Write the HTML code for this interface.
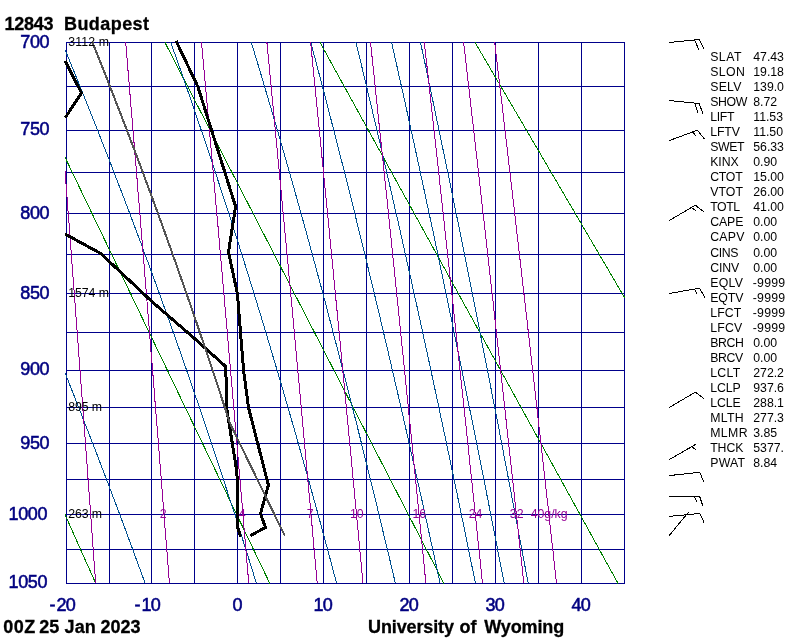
<!DOCTYPE html>
<html><head><meta charset="utf-8"><title>12843 Budapest Sounding</title>
<style>html,body{margin:0;padding:0;background:#fff}svg{display:block;will-change:transform}</style></head>
<body><svg width="800" height="640" viewBox="0 0 800 640">
<rect width="800" height="640" fill="#fff"/>
<defs><clipPath id="c"><rect x="65" y="42" width="560" height="542"/></clipPath></defs>
<g fill="#00008b" shape-rendering="crispEdges"><rect x="66" y="42" width="1" height="542"/><rect x="109" y="42" width="1" height="542"/><rect x="151" y="42" width="1" height="542"/><rect x="194" y="42" width="1" height="542"/><rect x="237" y="42" width="1" height="542"/><rect x="280" y="42" width="1" height="542"/><rect x="323" y="42" width="1" height="542"/><rect x="366" y="42" width="1" height="542"/><rect x="409" y="42" width="1" height="542"/><rect x="452" y="42" width="1" height="542"/><rect x="495" y="42" width="1" height="542"/><rect x="538" y="42" width="1" height="542"/><rect x="581" y="42" width="1" height="542"/><rect x="624" y="42" width="1" height="542"/><rect x="66" y="42" width="559" height="1"/><rect x="66" y="86" width="559" height="1"/><rect x="66" y="130" width="559" height="1"/><rect x="66" y="172" width="559" height="1"/><rect x="66" y="213" width="559" height="1"/><rect x="66" y="254" width="559" height="1"/><rect x="66" y="293" width="559" height="1"/><rect x="66" y="332" width="559" height="1"/><rect x="66" y="370" width="559" height="1"/><rect x="66" y="407" width="559" height="1"/><rect x="66" y="443" width="559" height="1"/><rect x="66" y="479" width="559" height="1"/><rect x="66" y="514" width="559" height="1"/><rect x="66" y="549" width="559" height="1"/><rect x="66" y="583" width="559" height="1"/></g>
<g clip-path="url(#c)" fill="none" stroke-width="1" shape-rendering="crispEdges"><g stroke="#008000">
<polyline points="-145.2,42.4 95.7,583.4" />
<polyline points="9.8,42.4 269.8,583.4" />
<polyline points="164.9,42.4 443.9,583.4" />
<polyline points="320.0,42.4 618.0,583.4" />
<polyline points="475.0,42.4 792.1,583.4" />
</g><g stroke="#005090">
<polyline points="-73.6,42.4 -69.6,51.3 -65.7,60.2 -61.9,69.1 -58.0,77.9 -54.2,86.7 -50.4,95.5 -46.7,104.2 -42.9,112.8 -39.2,121.5 -35.5,130.0 -31.9,138.6 -28.2,147.1 -24.6,155.5 -21.0,163.9 -17.5,172.3 -14.0,180.7 -10.4,189.0 -7.0,197.2 -3.5,205.5 -0.0,213.6 3.4,221.8 6.8,229.9 10.1,238.0 13.5,246.0 16.8,254.1 20.1,262.0 23.4,270.0 26.6,277.9 29.9,285.8 33.1,293.6 36.3,301.4 39.4,309.2 42.6,316.9 45.7,324.6 48.8,332.3 51.9,340.0 54.9,347.6 58.0,355.2 61.0,362.7 64.0,370.3 67.0,377.8 69.9,385.2 72.9,392.7 75.8,400.1 78.7,407.4 81.6,414.8 84.4,422.1 87.3,429.4 90.1,436.7 92.9,443.9 95.7,451.1 98.4,458.3 101.2,465.5 103.9,472.6 106.6,479.7 109.3,486.8 112.0,493.9 114.6,500.9 117.3,507.9 119.9,514.9 122.5,521.8 125.1,528.8 127.6,535.7 130.2,542.6 132.7,549.4 135.2,556.2 137.7,563.1 140.2,569.8 142.7,576.6 145.2,583.4" />
<polyline points="62.0,42.4 65.7,51.3 69.4,60.2 73.0,69.1 76.6,77.9 80.1,86.7 83.7,95.5 87.2,104.2 90.6,112.8 94.1,121.5 97.5,130.0 100.8,138.6 104.2,147.1 107.5,155.5 110.8,163.9 114.0,172.3 117.2,180.7 120.4,189.0 123.6,197.2 126.7,205.5 129.8,213.6 132.9,221.8 135.9,229.9 139.0,238.0 142.0,246.0 144.9,254.1 147.9,262.0 150.8,270.0 153.7,277.9 156.6,285.8 159.4,293.6 162.2,301.4 165.0,309.2 167.8,316.9 170.6,324.6 173.3,332.3 176.0,340.0 178.7,347.6 181.4,355.2 184.0,362.7 186.6,370.3 189.2,377.8 191.8,385.2 194.3,392.7 196.9,400.1 199.4,407.4 201.9,414.8 204.4,422.1 206.8,429.4 209.3,436.7 211.7,443.9 214.1,451.1 216.5,458.3 218.8,465.5 221.2,472.6 223.5,479.7 225.8,486.8 228.1,493.9 230.4,500.9 232.6,507.9 234.9,514.9 237.1,521.8 239.3,528.8 241.5,535.7 243.7,542.6 245.8,549.4 248.0,556.2 250.1,563.1 252.2,569.8 254.3,576.6 256.4,583.4" />
<polyline points="170.7,42.4 173.9,51.3 177.1,60.2 180.2,69.1 183.3,77.9 186.4,86.7 189.4,95.5 192.4,104.2 195.4,112.8 198.3,121.5 201.2,130.0 204.1,138.6 207.0,147.1 209.8,155.5 212.6,163.9 215.4,172.3 218.1,180.7 220.8,189.0 223.5,197.2 226.2,205.5 228.9,213.6 231.5,221.8 234.1,229.9 236.6,238.0 239.2,246.0 241.7,254.1 244.2,262.0 246.7,270.0 249.2,277.9 251.6,285.8 254.0,293.6 256.4,301.4 258.8,309.2 261.2,316.9 263.5,324.6 265.8,332.3 268.1,340.0 270.4,347.6 272.6,355.2 274.9,362.7 277.1,370.3 279.3,377.8 281.5,385.2 283.7,392.7 285.8,400.1 288.0,407.4 290.1,414.8 292.2,422.1 294.3,429.4 296.4,436.7 298.4,443.9 300.5,451.1 302.5,458.3 304.5,465.5 306.5,472.6 308.5,479.7 310.5,486.8 312.4,493.9 314.3,500.9 316.3,507.9 318.2,514.9 320.1,521.8 322.0,528.8 323.8,535.7 325.7,542.6 327.6,549.4 329.4,556.2 331.2,563.1 333.0,569.8 334.8,576.6 336.6,583.4" />
<polyline points="251.3,42.4 254.0,51.3 256.7,60.2 259.4,69.1 262.0,77.9 264.6,86.7 267.2,95.5 269.8,104.2 272.3,112.8 274.9,121.5 277.4,130.0 279.8,138.6 282.3,147.1 284.7,155.5 287.1,163.9 289.5,172.3 291.9,180.7 294.2,189.0 296.5,197.2 298.8,205.5 301.1,213.6 303.4,221.8 305.6,229.9 307.8,238.0 310.0,246.0 312.2,254.1 314.4,262.0 316.5,270.0 318.7,277.9 320.8,285.8 322.9,293.6 325.0,301.4 327.0,309.2 329.1,316.9 331.1,324.6 333.1,332.3 335.1,340.0 337.1,347.6 339.1,355.2 341.0,362.7 343.0,370.3 344.9,377.8 346.8,385.2 348.7,392.7 350.6,400.1 352.5,407.4 354.3,414.8 356.2,422.1 358.0,429.4 359.8,436.7 361.6,443.9 363.4,451.1 365.2,458.3 367.0,465.5 368.7,472.6 370.5,479.7 372.2,486.8 373.9,493.9 375.7,500.9 377.4,507.9 379.0,514.9 380.7,521.8 382.4,528.8 384.0,535.7 385.7,542.6 387.3,549.4 389.0,556.2 390.6,563.1 392.2,569.8 393.8,576.6 395.4,583.4" />
<polyline points="310.7,42.4 313.1,51.3 315.5,60.2 317.8,69.1 320.2,77.9 322.5,86.7 324.8,95.5 327.0,104.2 329.3,112.8 331.5,121.5 333.7,130.0 335.9,138.6 338.1,147.1 340.2,155.5 342.4,163.9 344.5,172.3 346.6,180.7 348.7,189.0 350.7,197.2 352.8,205.5 354.8,213.6 356.8,221.8 358.8,229.9 360.8,238.0 362.8,246.0 364.7,254.1 366.7,262.0 368.6,270.0 370.5,277.9 372.4,285.8 374.3,293.6 376.2,301.4 378.0,309.2 379.9,316.9 381.7,324.6 383.5,332.3 385.3,340.0 387.1,347.6 388.9,355.2 390.6,362.7 392.4,370.3 394.1,377.8 395.9,385.2 397.6,392.7 399.3,400.1 401.0,407.4 402.7,414.8 404.3,422.1 406.0,429.4 407.7,436.7 409.3,443.9 410.9,451.1 412.5,458.3 414.2,465.5 415.8,472.6 417.3,479.7 418.9,486.8 420.5,493.9 422.1,500.9 423.6,507.9 425.2,514.9 426.7,521.8 428.2,528.8 429.7,535.7 431.2,542.6 432.7,549.4 434.2,556.2 435.7,563.1 437.2,569.8 438.6,576.6 440.1,583.4" />
<polyline points="355.9,42.4 358.1,51.3 360.3,60.2 362.4,69.1 364.5,77.9 366.6,86.7 368.7,95.5 370.8,104.2 372.8,112.8 374.9,121.5 376.9,130.0 378.9,138.6 380.9,147.1 382.8,155.5 384.8,163.9 386.7,172.3 388.6,180.7 390.6,189.0 392.5,197.2 394.3,205.5 396.2,213.6 398.1,221.8 399.9,229.9 401.7,238.0 403.5,246.0 405.3,254.1 407.1,262.0 408.9,270.0 410.7,277.9 412.4,285.8 414.1,293.6 415.9,301.4 417.6,309.2 419.3,316.9 421.0,324.6 422.7,332.3 424.3,340.0 426.0,347.6 427.6,355.2 429.3,362.7 430.9,370.3 432.5,377.8 434.1,385.2 435.7,392.7 437.3,400.1 438.9,407.4 440.4,414.8 442.0,422.1 443.5,429.4 445.1,436.7 446.6,443.9 448.1,451.1 449.6,458.3 451.1,465.5 452.6,472.6 454.1,479.7 455.6,486.8 457.1,493.9 458.5,500.9 460.0,507.9 461.4,514.9 462.9,521.8 464.3,528.8 465.7,535.7 467.1,542.6 468.5,549.4 469.9,556.2 471.3,563.1 472.7,569.8 474.1,576.6 475.4,583.4" />
<polyline points="391.6,42.4 393.6,51.3 395.6,60.2 397.6,69.1 399.5,77.9 401.5,86.7 403.5,95.5 405.4,104.2 407.3,112.8 409.2,121.5 411.1,130.0 413.0,138.6 414.8,147.1 416.7,155.5 418.5,163.9 420.3,172.3 422.1,180.7 423.9,189.0 425.7,197.2 427.4,205.5 429.2,213.6 430.9,221.8 432.7,229.9 434.4,238.0 436.1,246.0 437.8,254.1 439.4,262.0 441.1,270.0 442.8,277.9 444.4,285.8 446.1,293.6 447.7,301.4 449.3,309.2 450.9,316.9 452.5,324.6 454.1,332.3 455.7,340.0 457.2,347.6 458.8,355.2 460.3,362.7 461.9,370.3 463.4,377.8 464.9,385.2 466.4,392.7 467.9,400.1 469.4,407.4 470.9,414.8 472.4,422.1 473.9,429.4 475.3,436.7 476.8,443.9 478.2,451.1 479.6,458.3 481.1,465.5 482.5,472.6 483.9,479.7 485.3,486.8 486.7,493.9 488.1,500.9 489.5,507.9 490.8,514.9 492.2,521.8 493.6,528.8 494.9,535.7 496.3,542.6 497.6,549.4 498.9,556.2 500.2,563.1 501.6,569.8 502.9,576.6 504.2,583.4" />
<polyline points="420.5,42.4 422.4,51.3 424.3,60.2 426.2,69.1 428.0,77.9 429.9,86.7 431.7,95.5 433.6,104.2 435.4,112.8 437.2,121.5 439.0,130.0 440.8,138.6 442.5,147.1 444.3,155.5 446.0,163.9 447.8,172.3 449.5,180.7 451.2,189.0 452.9,197.2 454.5,205.5 456.2,213.6 457.9,221.8 459.5,229.9 461.2,238.0 462.8,246.0 464.4,254.1 466.0,262.0 467.6,270.0 469.2,277.9 470.8,285.8 472.3,293.6 473.9,301.4 475.4,309.2 477.0,316.9 478.5,324.6 480.0,332.3 481.5,340.0 483.0,347.6 484.5,355.2 486.0,362.7 487.5,370.3 488.9,377.8 490.4,385.2 491.8,392.7 493.3,400.1 494.7,407.4 496.1,414.8 497.6,422.1 499.0,429.4 500.4,436.7 501.8,443.9 503.2,451.1 504.5,458.3 505.9,465.5 507.3,472.6 508.6,479.7 510.0,486.8 511.3,493.9 512.6,500.9 514.0,507.9 515.3,514.9 516.6,521.8 517.9,528.8 519.2,535.7 520.5,542.6 521.8,549.4 523.1,556.2 524.4,563.1 525.6,569.8 526.9,576.6 528.2,583.4" />
</g><g stroke="#960096">
<polyline points="55.0,42.4 55.7,51.3 56.4,60.2 57.1,69.1 57.8,77.9 58.5,86.7 59.2,95.5 59.8,104.2 60.5,112.8 61.2,121.5 61.8,130.0 62.5,138.6 63.1,147.1 63.8,155.5 64.4,163.9 65.1,172.3 65.7,180.7 66.4,189.0 67.0,197.2 67.6,205.5 68.2,213.6 68.9,221.8 69.5,229.9 70.1,238.0 70.7,246.0 71.3,254.1 71.9,262.0 72.5,270.0 73.1,277.9 73.7,285.8 74.3,293.6 74.9,301.4 75.5,309.2 76.0,316.9 76.6,324.6 77.2,332.3 77.8,340.0 78.3,347.6 78.9,355.2 79.5,362.7 80.0,370.3 80.6,377.8 81.1,385.2 81.7,392.7 82.2,400.1 82.8,407.4 83.3,414.8 83.9,422.1 84.4,429.4 85.0,436.7 85.5,443.9 86.0,451.1 86.6,458.3 87.1,465.5 87.6,472.6 88.1,479.7 88.6,486.8 89.2,493.9 89.7,500.9 90.2,507.9 90.7,514.9 91.2,521.8 91.7,528.8 92.2,535.7 92.7,542.6 93.2,549.4 93.7,556.2 94.2,563.1 94.7,569.8 95.2,576.6 95.7,583.4" />
<polyline points="125.7,42.4 126.4,51.3 127.2,60.2 127.9,69.1 128.6,77.9 129.4,86.7 130.1,95.5 130.8,104.2 131.5,112.8 132.3,121.5 133.0,130.0 133.7,138.6 134.4,147.1 135.1,155.5 135.8,163.9 136.5,172.3 137.2,180.7 137.8,189.0 138.5,197.2 139.2,205.5 139.9,213.6 140.5,221.8 141.2,229.9 141.9,238.0 142.5,246.0 143.2,254.1 143.8,262.0 144.5,270.0 145.1,277.9 145.7,285.8 146.4,293.6 147.0,301.4 147.6,309.2 148.3,316.9 148.9,324.6 149.5,332.3 150.1,340.0 150.7,347.6 151.3,355.2 152.0,362.7 152.6,370.3 153.2,377.8 153.8,385.2 154.3,392.7 154.9,400.1 155.5,407.4 156.1,414.8 156.7,422.1 157.3,429.4 157.9,436.7 158.4,443.9 159.0,451.1 159.6,458.3 160.1,465.5 160.7,472.6 161.3,479.7 161.8,486.8 162.4,493.9 162.9,500.9 163.5,507.9 164.0,514.9 164.6,521.8 165.1,528.8 165.7,535.7 166.2,542.6 166.8,549.4 167.3,556.2 167.8,563.1 168.4,569.8 168.9,576.6 169.4,583.4" />
<polyline points="201.5,42.4 202.3,51.3 203.1,60.2 203.9,69.1 204.7,77.9 205.5,86.7 206.3,95.5 207.1,104.2 207.9,112.8 208.6,121.5 209.4,130.0 210.2,138.6 210.9,147.1 211.7,155.5 212.4,163.9 213.2,172.3 213.9,180.7 214.7,189.0 215.4,197.2 216.1,205.5 216.8,213.6 217.6,221.8 218.3,229.9 219.0,238.0 219.7,246.0 220.4,254.1 221.1,262.0 221.8,270.0 222.5,277.9 223.2,285.8 223.9,293.6 224.6,301.4 225.2,309.2 225.9,316.9 226.6,324.6 227.3,332.3 227.9,340.0 228.6,347.6 229.2,355.2 229.9,362.7 230.5,370.3 231.2,377.8 231.8,385.2 232.5,392.7 233.1,400.1 233.8,407.4 234.4,414.8 235.0,422.1 235.6,429.4 236.3,436.7 236.9,443.9 237.5,451.1 238.1,458.3 238.7,465.5 239.3,472.6 240.0,479.7 240.6,486.8 241.2,493.9 241.8,500.9 242.4,507.9 242.9,514.9 243.5,521.8 244.1,528.8 244.7,535.7 245.3,542.6 245.9,549.4 246.5,556.2 247.0,563.1 247.6,569.8 248.2,576.6 248.7,583.4" />
<polyline points="266.9,42.4 267.8,51.3 268.6,60.2 269.5,69.1 270.3,77.9 271.2,86.7 272.0,95.5 272.8,104.2 273.7,112.8 274.5,121.5 275.3,130.0 276.1,138.6 276.9,147.1 277.7,155.5 278.5,163.9 279.3,172.3 280.1,180.7 280.9,189.0 281.7,197.2 282.4,205.5 283.2,213.6 284.0,221.8 284.7,229.9 285.5,238.0 286.3,246.0 287.0,254.1 287.8,262.0 288.5,270.0 289.2,277.9 290.0,285.8 290.7,293.6 291.4,301.4 292.2,309.2 292.9,316.9 293.6,324.6 294.3,332.3 295.0,340.0 295.7,347.6 296.4,355.2 297.1,362.7 297.8,370.3 298.5,377.8 299.2,385.2 299.9,392.7 300.6,400.1 301.2,407.4 301.9,414.8 302.6,422.1 303.2,429.4 303.9,436.7 304.6,443.9 305.2,451.1 305.9,458.3 306.5,465.5 307.2,472.6 307.8,479.7 308.5,486.8 309.1,493.9 309.8,500.9 310.4,507.9 311.0,514.9 311.7,521.8 312.3,528.8 312.9,535.7 313.5,542.6 314.1,549.4 314.8,556.2 315.4,563.1 316.0,569.8 316.6,576.6 317.2,583.4" />
<polyline points="310.6,42.4 311.5,51.3 312.4,60.2 313.2,69.1 314.1,77.9 315.0,86.7 315.9,95.5 316.7,104.2 317.6,112.8 318.5,121.5 319.3,130.0 320.2,138.6 321.0,147.1 321.8,155.5 322.7,163.9 323.5,172.3 324.3,180.7 325.1,189.0 325.9,197.2 326.8,205.5 327.6,213.6 328.4,221.8 329.2,229.9 329.9,238.0 330.7,246.0 331.5,254.1 332.3,262.0 333.1,270.0 333.8,277.9 334.6,285.8 335.4,293.6 336.1,301.4 336.9,309.2 337.6,316.9 338.4,324.6 339.1,332.3 339.9,340.0 340.6,347.6 341.3,355.2 342.0,362.7 342.8,370.3 343.5,377.8 344.2,385.2 344.9,392.7 345.6,400.1 346.3,407.4 347.0,414.8 347.7,422.1 348.4,429.4 349.1,436.7 349.8,443.9 350.5,451.1 351.2,458.3 351.9,465.5 352.5,472.6 353.2,479.7 353.9,486.8 354.6,493.9 355.2,500.9 355.9,507.9 356.5,514.9 357.2,521.8 357.9,528.8 358.5,535.7 359.2,542.6 359.8,549.4 360.4,556.2 361.1,563.1 361.7,569.8 362.4,576.6 363.0,583.4" />
<polyline points="370.5,42.4 371.5,51.3 372.4,60.2 373.3,69.1 374.3,77.9 375.2,86.7 376.1,95.5 377.0,104.2 377.9,112.8 378.8,121.5 379.7,130.0 380.6,138.6 381.5,147.1 382.4,155.5 383.3,163.9 384.2,172.3 385.0,180.7 385.9,189.0 386.8,197.2 387.6,205.5 388.5,213.6 389.3,221.8 390.1,229.9 391.0,238.0 391.8,246.0 392.6,254.1 393.5,262.0 394.3,270.0 395.1,277.9 395.9,285.8 396.7,293.6 397.5,301.4 398.3,309.2 399.1,316.9 399.9,324.6 400.7,332.3 401.4,340.0 402.2,347.6 403.0,355.2 403.8,362.7 404.5,370.3 405.3,377.8 406.0,385.2 406.8,392.7 407.6,400.1 408.3,407.4 409.0,414.8 409.8,422.1 410.5,429.4 411.3,436.7 412.0,443.9 412.7,451.1 413.4,458.3 414.2,465.5 414.9,472.6 415.6,479.7 416.3,486.8 417.0,493.9 417.7,500.9 418.4,507.9 419.1,514.9 419.8,521.8 420.5,528.8 421.2,535.7 421.9,542.6 422.5,549.4 423.2,556.2 423.9,563.1 424.6,569.8 425.2,576.6 425.9,583.4" />
<polyline points="424.3,42.4 425.3,51.3 426.3,60.2 427.3,69.1 428.3,77.9 429.3,86.7 430.2,95.5 431.2,104.2 432.1,112.8 433.1,121.5 434.0,130.0 435.0,138.6 435.9,147.1 436.8,155.5 437.8,163.9 438.7,172.3 439.6,180.7 440.5,189.0 441.4,197.2 442.3,205.5 443.2,213.6 444.1,221.8 444.9,229.9 445.8,238.0 446.7,246.0 447.6,254.1 448.4,262.0 449.3,270.0 450.1,277.9 451.0,285.8 451.8,293.6 452.7,301.4 453.5,309.2 454.3,316.9 455.2,324.6 456.0,332.3 456.8,340.0 457.6,347.6 458.4,355.2 459.2,362.7 460.0,370.3 460.8,377.8 461.6,385.2 462.4,392.7 463.2,400.1 464.0,407.4 464.8,414.8 465.6,422.1 466.3,429.4 467.1,436.7 467.9,443.9 468.6,451.1 469.4,458.3 470.1,465.5 470.9,472.6 471.7,479.7 472.4,486.8 473.1,493.9 473.9,500.9 474.6,507.9 475.3,514.9 476.1,521.8 476.8,528.8 477.5,535.7 478.2,542.6 479.0,549.4 479.7,556.2 480.4,563.1 481.1,569.8 481.8,576.6 482.5,583.4" />
<polyline points="463.6,42.4 464.7,51.3 465.7,60.2 466.7,69.1 467.7,77.9 468.7,86.7 469.7,95.5 470.7,104.2 471.7,112.8 472.7,121.5 473.7,130.0 474.6,138.6 475.6,147.1 476.6,155.5 477.5,163.9 478.5,172.3 479.4,180.7 480.4,189.0 481.3,197.2 482.2,205.5 483.1,213.6 484.1,221.8 485.0,229.9 485.9,238.0 486.8,246.0 487.7,254.1 488.6,262.0 489.5,270.0 490.3,277.9 491.2,285.8 492.1,293.6 493.0,301.4 493.8,309.2 494.7,316.9 495.6,324.6 496.4,332.3 497.3,340.0 498.1,347.6 498.9,355.2 499.8,362.7 500.6,370.3 501.4,377.8 502.3,385.2 503.1,392.7 503.9,400.1 504.7,407.4 505.5,414.8 506.3,422.1 507.1,429.4 507.9,436.7 508.7,443.9 509.5,451.1 510.3,458.3 511.1,465.5 511.8,472.6 512.6,479.7 513.4,486.8 514.2,493.9 514.9,500.9 515.7,507.9 516.4,514.9 517.2,521.8 518.0,528.8 518.7,535.7 519.4,542.6 520.2,549.4 520.9,556.2 521.7,563.1 522.4,569.8 523.1,576.6 523.8,583.4" />
<polyline points="494.7,42.4 495.7,51.3 496.8,60.2 497.8,69.1 498.9,77.9 499.9,86.7 500.9,95.5 502.0,104.2 503.0,112.8 504.0,121.5 505.0,130.0 506.0,138.6 507.0,147.1 508.0,155.5 508.9,163.9 509.9,172.3 510.9,180.7 511.9,189.0 512.8,197.2 513.8,205.5 514.7,213.6 515.7,221.8 516.6,229.9 517.5,238.0 518.5,246.0 519.4,254.1 520.3,262.0 521.2,270.0 522.1,277.9 523.0,285.8 523.9,293.6 524.8,301.4 525.7,309.2 526.6,316.9 527.5,324.6 528.3,332.3 529.2,340.0 530.1,347.6 530.9,355.2 531.8,362.7 532.7,370.3 533.5,377.8 534.4,385.2 535.2,392.7 536.0,400.1 536.9,407.4 537.7,414.8 538.5,422.1 539.3,429.4 540.2,436.7 541.0,443.9 541.8,451.1 542.6,458.3 543.4,465.5 544.2,472.6 545.0,479.7 545.8,486.8 546.6,493.9 547.4,500.9 548.2,507.9 548.9,514.9 549.7,521.8 550.5,528.8 551.2,535.7 552.0,542.6 552.8,549.4 553.5,556.2 554.3,563.1 555.0,569.8 555.8,576.6 556.5,583.4" />
</g></g>
<g fill="none" stroke="#000" stroke-width="3" stroke-linejoin="round" shape-rendering="crispEdges">
<polyline points="176.0,40.8 197.8,86.5 235.6,206.5 228.5,252.0 237.4,293.5 240.5,332.5 243.6,370.5 248.6,408.0 268.4,485.0 260.5,513.7 265.5,527.5 250.2,535.7" />
<polyline points="65.3,61.0 81.5,93.0 65.3,117.6" />
<polyline points="65.0,234.0 100.7,253.5 151.5,301.2 194.5,338.5 225.8,366.6 226.6,408.0 236.6,470.0 237.7,486.0 237.8,528.0 240.6,536.6" />
</g>
<polyline points="284.7,535.6 231.2,425.9 229.6,422.1 227.2,414.8 224.8,407.4 222.4,400.1 220.0,392.7 217.5,385.2 215.1,377.8 212.6,370.3 210.1,362.7 207.5,355.2 205.0,347.6 202.4,340.0 199.8,332.3 197.2,324.6 194.5,316.9 191.9,309.2 189.2,301.4 186.5,293.6 183.7,285.8 181.0,277.9 178.2,270.0 175.4,262.0 172.5,254.1 169.7,246.0 166.8,238.0 163.9,229.9 161.0,221.8 158.0,213.6 155.0,205.5 152.0,197.2 148.9,189.0 145.9,180.7 142.8,172.3 139.6,163.9 136.5,155.5 133.3,147.1 130.0,138.6 126.8,130.0 123.5,121.5 120.2,112.8 116.8,104.2 113.5,95.5 110.0,86.7 106.6,77.9 103.1,69.1 99.6,60.2 96.1,51.3 92.5,42.4" stroke="#545454" stroke-width="2" fill="none" shape-rendering="crispEdges" clip-path="url(#c)"/>
<g font-family="Liberation Sans, sans-serif">
<g stroke="#000" stroke-width="0.3">
<text x="4.5" y="29.7" font-size="18" font-weight="bold" textLength="49" lengthAdjust="spacing" >12843</text>
<text x="64" y="29.7" font-size="18" font-weight="bold" textLength="85" lengthAdjust="spacing" >Budapest</text>
<text x="3.2" y="632.8" font-size="18" font-weight="bold" textLength="32" lengthAdjust="spacing" >00Z</text>
<text x="39.2" y="632.8" font-size="18" font-weight="bold" textLength="20" lengthAdjust="spacing" >25</text>
<text x="64.5" y="632.8" font-size="18" font-weight="bold" textLength="31.3" lengthAdjust="spacing" >Jan</text>
<text x="100.4" y="632.8" font-size="18" font-weight="bold" textLength="40" lengthAdjust="spacing" >2023</text>
<text x="368" y="632.8" font-size="18" font-weight="bold" textLength="86" lengthAdjust="spacing" >University</text>
<text x="459.5" y="632.8" font-size="18" font-weight="bold" textLength="17" lengthAdjust="spacing" >of</text>
<text x="484.2" y="632.8" font-size="18" font-weight="bold" textLength="80" lengthAdjust="spacing" >Wyoming</text>
</g>
<g fill="#000080" stroke="#000080" stroke-width="0.55">
<text x="20.2" y="48" font-size="18" textLength="29.4" lengthAdjust="spacing" >700</text>
<text x="20.2" y="135" font-size="18" textLength="29.4" lengthAdjust="spacing" >750</text>
<text x="20.2" y="219" font-size="18" textLength="29.4" lengthAdjust="spacing" >800</text>
<text x="20.2" y="299" font-size="18" textLength="29.4" lengthAdjust="spacing" >850</text>
<text x="20.2" y="375" font-size="18" textLength="29.4" lengthAdjust="spacing" >900</text>
<text x="20.2" y="449" font-size="18" textLength="29.4" lengthAdjust="spacing" >950</text>
<text x="8.4" y="520" font-size="18" textLength="39.2" lengthAdjust="spacing" >1000</text>
<text x="8.4" y="588" font-size="18" textLength="39.2" lengthAdjust="spacing" >1050</text>
<text x="56.5" y="611" font-size="18" textLength="19.2" lengthAdjust="spacing" >20</text>
<text x="49.5" y="611" font-size="18" >-</text>
<text x="141.5" y="611" font-size="18" textLength="19.2" lengthAdjust="spacing" >10</text>
<text x="134.5" y="611" font-size="18" >-</text>
<text x="232.5" y="611" font-size="18" >0</text>
<text x="313.5" y="611" font-size="18" textLength="19.2" lengthAdjust="spacing" >10</text>
<text x="399.5" y="611" font-size="18" textLength="19.2" lengthAdjust="spacing" >20</text>
<text x="485.5" y="611" font-size="18" textLength="19.2" lengthAdjust="spacing" >30</text>
<text x="571.5" y="611" font-size="18" textLength="19.2" lengthAdjust="spacing" >40</text>
</g>
<text x="68.3" y="46" font-size="12.3" textLength="40.6" lengthAdjust="spacing" >3112 m</text>
<text x="68.3" y="297" font-size="12.3" textLength="40.6" lengthAdjust="spacing" >1574 m</text>
<text x="68.3" y="411" font-size="12.3" textLength="33.8" lengthAdjust="spacing" >895 m</text>
<text x="68.3" y="518" font-size="12.3" textLength="33.8" lengthAdjust="spacing" >263 m</text>
<g fill="#960096">
<text x="163.143" y="518" font-size="12.3" text-anchor="middle" >2</text>
<text x="242.047" y="518" font-size="12.3" text-anchor="middle" >4</text>
<text x="310.125" y="518" font-size="12.3" text-anchor="middle" >7</text>
<text x="356.747" y="518" font-size="12.3" text-anchor="middle" >10</text>
<text x="419.297" y="518" font-size="12.3" text-anchor="middle" >16</text>
<text x="475.544" y="518" font-size="12.3" text-anchor="middle" >24</text>
<text x="516.645" y="518" font-size="12.3" text-anchor="middle" >32</text>
<text x="549.131" y="518" font-size="12.3" text-anchor="middle" >40g/kg</text>
</g>
<g font-size="12.3">
<text x="710.2" y="61.0" textLength="31.2">SLAT</text><text x="753.3" y="61.0" textLength="30.6">47.43</text>
<text x="710.2" y="76.0" textLength="34.7">SLON</text><text x="753.3" y="76.0" textLength="30.6">19.18</text>
<text x="710.2" y="91.1" textLength="31.3">SELV</text><text x="753.3" y="91.1" textLength="30.6">139.0</text>
<text x="710.2" y="106.1" textLength="37.2">SHOW</text><text x="753.3" y="106.1" textLength="23.7">8.72</text>
<text x="710.2" y="121.1" textLength="24.4">LIFT</text><text x="753.3" y="121.1" textLength="29.7">11.53</text>
<text x="710.2" y="136.2" textLength="29.8">LFTV</text><text x="753.3" y="136.2" textLength="29.7">11.50</text>
<text x="710.2" y="151.2" textLength="34.3">SWET</text><text x="753.3" y="151.2" textLength="30.6">56.33</text>
<text x="710.2" y="166.2" textLength="28.5">KINX</text><text x="753.3" y="166.2" textLength="23.7">0.90</text>
<text x="710.2" y="181.3" textLength="32.5">CTOT</text><text x="753.3" y="181.3" textLength="30.6">15.00</text>
<text x="710.2" y="196.3" textLength="32.8">VTOT</text><text x="753.3" y="196.3" textLength="30.6">26.00</text>
<text x="710.2" y="211.3" textLength="30.0">TOTL</text><text x="753.3" y="211.3" textLength="30.6">41.00</text>
<text x="710.2" y="226.4" textLength="33.2">CAPE</text><text x="753.3" y="226.4" textLength="23.7">0.00</text>
<text x="710.2" y="241.4" textLength="34.2">CAPV</text><text x="753.3" y="241.4" textLength="23.7">0.00</text>
<text x="710.2" y="256.5" textLength="28.2">CINS</text><text x="753.3" y="256.5" textLength="23.7">0.00</text>
<text x="710.2" y="271.5" textLength="29.1">CINV</text><text x="753.3" y="271.5" textLength="23.7">0.00</text>
<text x="710.2" y="286.5" textLength="32.8">EQLV</text><text x="752.7" y="286.5" textLength="32.5">-9999</text>
<text x="710.2" y="301.6" textLength="33.2">EQTV</text><text x="752.7" y="301.6" textLength="32.5">-9999</text>
<text x="710.2" y="316.6" textLength="31.1">LFCT</text><text x="752.7" y="316.6" textLength="32.5">-9999</text>
<text x="710.2" y="331.6" textLength="32.1">LFCV</text><text x="752.7" y="331.6" textLength="32.5">-9999</text>
<text x="710.2" y="346.7" textLength="33.7">BRCH</text><text x="753.3" y="346.7" textLength="23.7">0.00</text>
<text x="710.2" y="361.7" textLength="33.0">BRCV</text><text x="753.3" y="361.7" textLength="23.7">0.00</text>
<text x="710.2" y="376.7" textLength="30.1">LCLT</text><text x="753.3" y="376.7" textLength="30.6">272.2</text>
<text x="710.2" y="391.8" textLength="30.5">LCLP</text><text x="753.3" y="391.8" textLength="30.6">937.6</text>
<text x="710.2" y="406.8" textLength="30.5">LCLE</text><text x="753.3" y="406.8" textLength="30.6">288.1</text>
<text x="710.2" y="421.8" textLength="33.4">MLTH</text><text x="753.3" y="421.8" textLength="30.6">277.3</text>
<text x="710.2" y="436.9" textLength="37.4">MLMR</text><text x="753.3" y="436.9" textLength="23.7">3.85</text>
<text x="710.2" y="451.9" textLength="33.2">THCK</text><text x="753.3" y="451.9" textLength="30.6">5377.</text>
<text x="710.2" y="466.9" textLength="34.9">PWAT</text><text x="753.3" y="466.9" textLength="23.7">8.84</text>
</g></g>
<g fill="none" stroke="#000" stroke-width="1" shape-rendering="crispEdges">
<polyline points="669.0,42.5 699.3,39.5" />
<polyline points="694.6,40.0 699.0,50.0" />
<polyline points="699.3,39.5 704.0,48.9" />
<polyline points="669.0,100.5 699.3,103.5" />
<polyline points="695.0,103.0 697.8,113.0" />
<polyline points="699.3,103.5 702.9,114.0" />
<polyline points="669.0,140.7 697.5,130.1 704.2,138.9" />
<polyline points="692.6,131.9 696.1,136.0" />
<polyline points="669.0,220.7 695.3,205.2 704.2,212.0" />
<polyline points="691.4,207.5 696.1,210.9" />
<polyline points="669.0,293.5 699.6,288.2 705.0,297.9" />
<polyline points="694.7,289.1 696.8,293.8" />
<polyline points="669.0,407.7 695.3,392.1 704.2,398.8" />
<polyline points="669.0,459.7 696.2,444.1" />
<polyline points="691.6,446.7 696.1,450.0" />
<polyline points="669.0,475.6 699.7,472.3 703.9,481.9" />
<polyline points="669.0,496.5 699.7,496.5 702.8,505.8" />
<polyline points="694.2,496.5 696.8,501.8" />
<polyline points="669.0,516.4 699.7,513.5 704.1,522.6" />
<polyline points="669.0,535.8 688.7,511.9" />
</g>
</svg></body></html>
